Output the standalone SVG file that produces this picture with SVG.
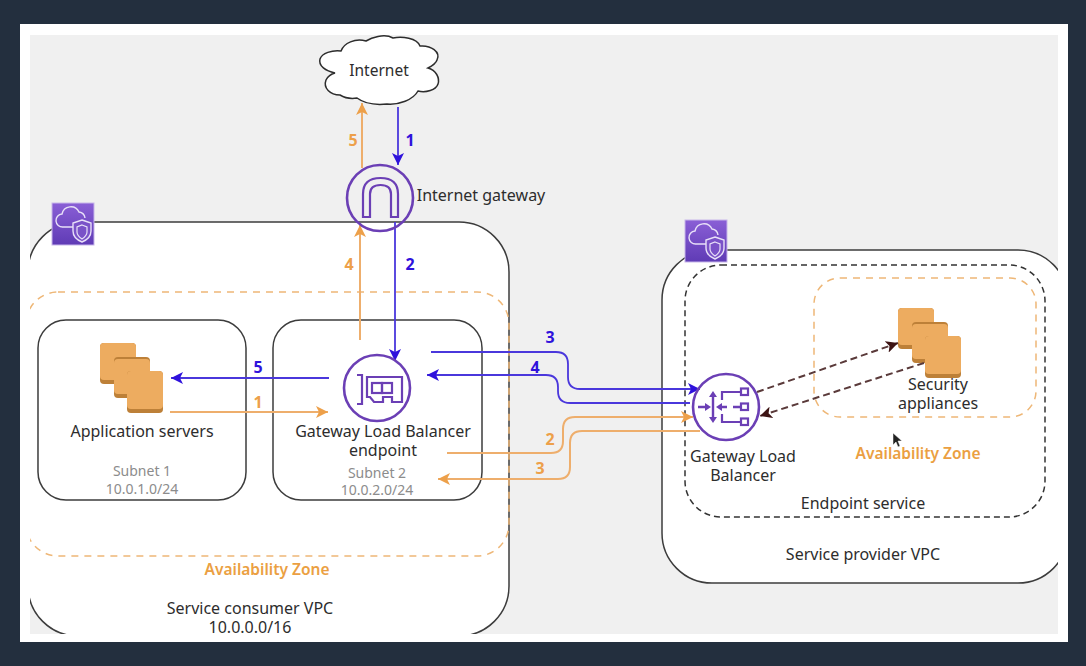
<svg xmlns="http://www.w3.org/2000/svg" width="1086" height="666" viewBox="0 0 1086 666">
<style>
text{font-family:"Noto Sans","Open Sans","Liberation Sans",sans-serif;font-size:16px;fill:#2d2d2d;text-anchor:middle}
.sub{font-size:14px;fill:#8c8c8c}
.az{fill:#eb9f42;font-weight:600;font-size:15.500px}
.n{font-size:16px;font-weight:700}
.nb{fill:#2f12dc}.no{fill:#eda04a}
.bl{fill:none;stroke:#4a37dc;stroke-width:1.800}
.or{fill:none;stroke:#eeae6c;stroke-width:2}
.ic{fill:none;stroke:#6b3fb5;stroke-width:2.600}
.ic2{fill:none;stroke:#6b3fb5;stroke-width:2.200}
.bx{fill:#fff;stroke:#3c3c3c;stroke-width:1.500}
.azb{fill:none;stroke:#eeb777;stroke-width:1.500;stroke-dasharray:7 6}
.da{fill:none;stroke:#5a3a3a;stroke-width:2;stroke-dasharray:7 4}
.a{fill:#edac60}.d{fill:#bd8038}
</style>
<defs>
<clipPath id="panel"><rect x="30" y="35" width="1028" height="599"/></clipPath>
<marker id="ab" markerWidth="13" markerHeight="12" refX="12" refY="6" orient="auto" markerUnits="userSpaceOnUse"><path d="M0 0L12 6L0 12L3 6Z" fill="#2f12dc"/></marker>
<marker id="ao" markerWidth="13" markerHeight="12" refX="12" refY="6" orient="auto" markerUnits="userSpaceOnUse"><path d="M0 0L12 6L0 12L3 6Z" fill="#eda04a"/></marker>
<marker id="ad" markerWidth="13" markerHeight="12" refX="12" refY="6" orient="auto" markerUnits="userSpaceOnUse"><path d="M0 0L12 6L0 12L3 6Z" fill="#3d1414"/></marker>
<linearGradient id="pg" x1="0" y1="0" x2="0" y2="1"><stop offset="0" stop-color="#8a5fd6"/><stop offset="1" stop-color="#5f3bb5"/></linearGradient>
<g id="stack">
<rect class="d" x="0" y="0" width="36" height="41" rx="4"/><rect class="a" x="0" y="0" width="36" height="37" rx="4"/>
<rect class="d" x="14" y="14" width="36" height="41" rx="4"/><rect class="a" x="14" y="16" width="36" height="35" rx="4"/>
<rect class="d" x="27" y="28" width="36" height="42" rx="4"/><rect class="a" x="27" y="28" width="36" height="38" rx="4"/>
</g>
<g id="vpc">
<rect x="0" y="0" width="42" height="42" fill="url(#pg)" stroke="#c7b6ea" stroke-width="1"/>
<path d="M27 24H11a6.500 6.500 0 0 1-1-13a9 9 0 0 1 17-2a7 7 0 0 1 6 6" fill="none" stroke="#e8e0f8" stroke-width="1.400"/>
<path d="M30 17l9 3v8c0 5-4 9-9 11c-5-2-9-6-9-11v-8z" fill="#7a52c8" stroke="#e8e0f8" stroke-width="1.400"/>
<path d="M30 22l5 2v5c0 3-2 5-5 7c-3-2-5-4-5-7v-5z" fill="none" stroke="#e8e0f8" stroke-width="1.200"/>
</g>
</defs>
<rect width="1086" height="666" fill="#232f3e"/>
<rect x="20" y="24" width="1048" height="618" fill="#fff"/>
<rect x="30" y="35" width="1028" height="599" fill="#f0f0f0"/>
<g clip-path="url(#panel)">
<g id="consumer-vpc"><rect class="bx" x="28" y="222" width="481" height="414" rx="50"/></g>
<g id="provider-vpc"><rect class="bx" x="662" y="250" width="406" height="333" rx="50"/></g>
<g id="az-left"><rect class="azb" x="26" y="292" width="483" height="264" rx="32"/></g>
</g>
<g id="subnet-1"><rect class="bx" x="38" y="320" width="208" height="180" rx="28"/>
<use href="#stack" x="100" y="343"/>
<text x="142" y="437">Application servers</text>
<text class="sub" x="142"><tspan x="142" y="476">Subnet 1</tspan><tspan x="142" y="494">10.0.1.0/24</tspan></text></g>
<g id="subnet-2"><rect class="bx" x="273" y="320" width="209" height="180" rx="28"/>
<text><tspan x="383" y="437">Gateway Load Balancer</tspan><tspan x="383" y="456">endpoint</tspan></text>
<text class="sub"><tspan x="377" y="478">Subnet 2</tspan><tspan x="377" y="495">10.0.2.0/24</tspan></text></g>
<text class="az" x="267" y="575">Availability Zone</text>
<text><tspan x="250" y="614">Service consumer VPC</tspan><tspan x="250" y="633">10.0.0.0/16</tspan></text>
<g id="endpoint-service"><rect x="685" y="265" width="360" height="252" rx="36" fill="none" stroke="#333" stroke-width="1.500" stroke-dasharray="6 4"/>
<text x="863" y="509">Endpoint service</text></g>
<g id="az-right"><rect class="azb" x="814" y="278" width="222" height="139" rx="26"/>
<text class="az" x="918" y="459">Availability Zone</text></g>
<text x="863" y="560">Service provider VPC</text>
<g id="security-appliances"><use href="#stack" x="898" y="308"/>
<text><tspan x="938" y="390">Security</tspan><tspan x="938" y="409">appliances</tspan></text></g>
<g id="vpc-badges"><use href="#vpc" x="52" y="203"/><use href="#vpc" x="685" y="220"/></g>
<g id="connectors">
<path class="or" d="M362 168V103" marker-end="url(#ao)"/>
<path class="or" d="M360 340V225" marker-end="url(#ao)"/>
<path class="bl" d="M398 107V165" marker-end="url(#ab)"/>
<path class="bl" d="M395 222V361" marker-end="url(#ab)"/>
<path class="bl" d="M329 378H171" marker-end="url(#ab)"/>
<path class="or" d="M170 412H328" marker-end="url(#ao)"/>
<path class="bl" d="M431 352H556q12 0 12 12v13q0 12 12 12H700" marker-end="url(#ab)"/>
<path class="bl" d="M690 403H570q-12 0-12-12v-4q0-12-12-12H427" marker-end="url(#ab)"/>
<path class="or" d="M447 453H551q12 0 12-12v-12q0-12 12-12H693" marker-end="url(#ao)"/>
<path class="or" d="M700 431H582q-12 0-12 12v24q0 12-12 12H438" marker-end="url(#ao)"/>
<path class="da" d="M757 392L898 343" marker-end="url(#ad)"/>
<path class="da" d="M924 363L760 416" marker-end="url(#ad)"/>
</g>
<g id="labels">
<text class="n no" x="353" y="146">5</text><text class="n nb" x="410" y="146">1</text>
<text class="n no" x="349" y="270">4</text><text class="n nb" x="410" y="270">2</text>
<text class="n nb" x="258" y="373">5</text><text class="n no" x="258" y="408">1</text>
<text class="n nb" x="550" y="343">3</text><text class="n nb" x="535" y="373">4</text>
<text class="n no" x="550" y="445">2</text><text class="n no" x="540" y="474">3</text>
</g>
<g id="internet"><path d="M340 95c-10 0-17-7-14-15c2-4 5-6 9-7c-9-2-17-7-15-14c2-6 12-9 21-8c3-8 14-13 25-10c5-3 18-8 27-3c9-2 24 0 27 8c11-1 21 6 17 14c-1 3-5 6-9 8c8 2 12 10 10 16c-2 6-12 9-20 7c-5 9-19 14-31 13c-10 1-22 0-30-6c-6 1-12 0-17-3z" fill="#fff" stroke="#2d2d2d" stroke-width="1.500"/>
<text x="379" y="76" style="font-size:15.500px">Internet</text></g>
<g id="internet-gateway"><circle class="ic" cx="380" cy="198" r="33"/>
<path class="ic2" d="M363 217V194q0-16 17.500-16t17.500 16V217H391V194q0-9-10.500-9t-10.500 9V217Z"/>
<text x="481" y="201">Internet gateway</text></g>
<g id="gwlb-endpoint"><circle class="ic" cx="377" cy="388" r="33"/>
<path class="ic2" d="M357 375h5v29h-5M367 377h35v25h-10v-5h-9v5h-9l-4-5h-3z"/><rect class="ic2" x="372" y="383" width="10" height="10"/><rect class="ic2" x="382" y="383" width="10" height="10"/></g>
<g id="gwlb"><circle class="ic" cx="726" cy="407" r="33"/>
<g fill="#6b3fb5"><path d="M698 405.800h8v2.400h-8zM711.800 394h2.400v26h-2.400zM720 405.800h7v2.400h-7zM733 405.800h7v2.400h-7z"/><path d="M711 407l-6-4v8zM713 391l-4 6h8zM713 423l-4-6h8zM716 407l6-4v8z"/></g>
<path class="ic2" d="M722 400v-8h18M722 414v8h18"/>
<rect class="ic2" x="741" y="388.500" width="7" height="6.500"/><rect class="ic2" x="741" y="403.500" width="7" height="6.500"/><rect class="ic2" x="741" y="418.500" width="7" height="6.500"/>
<text><tspan x="743" y="462">Gateway Load</tspan><tspan x="743" y="481">Balancer</tspan></text></g>
<path id="cursor" d="M893 433v12l3-3 2 5 2-1-2-5h4z" fill="#222" stroke="#fff" stroke-width=".5"/>
</svg>
